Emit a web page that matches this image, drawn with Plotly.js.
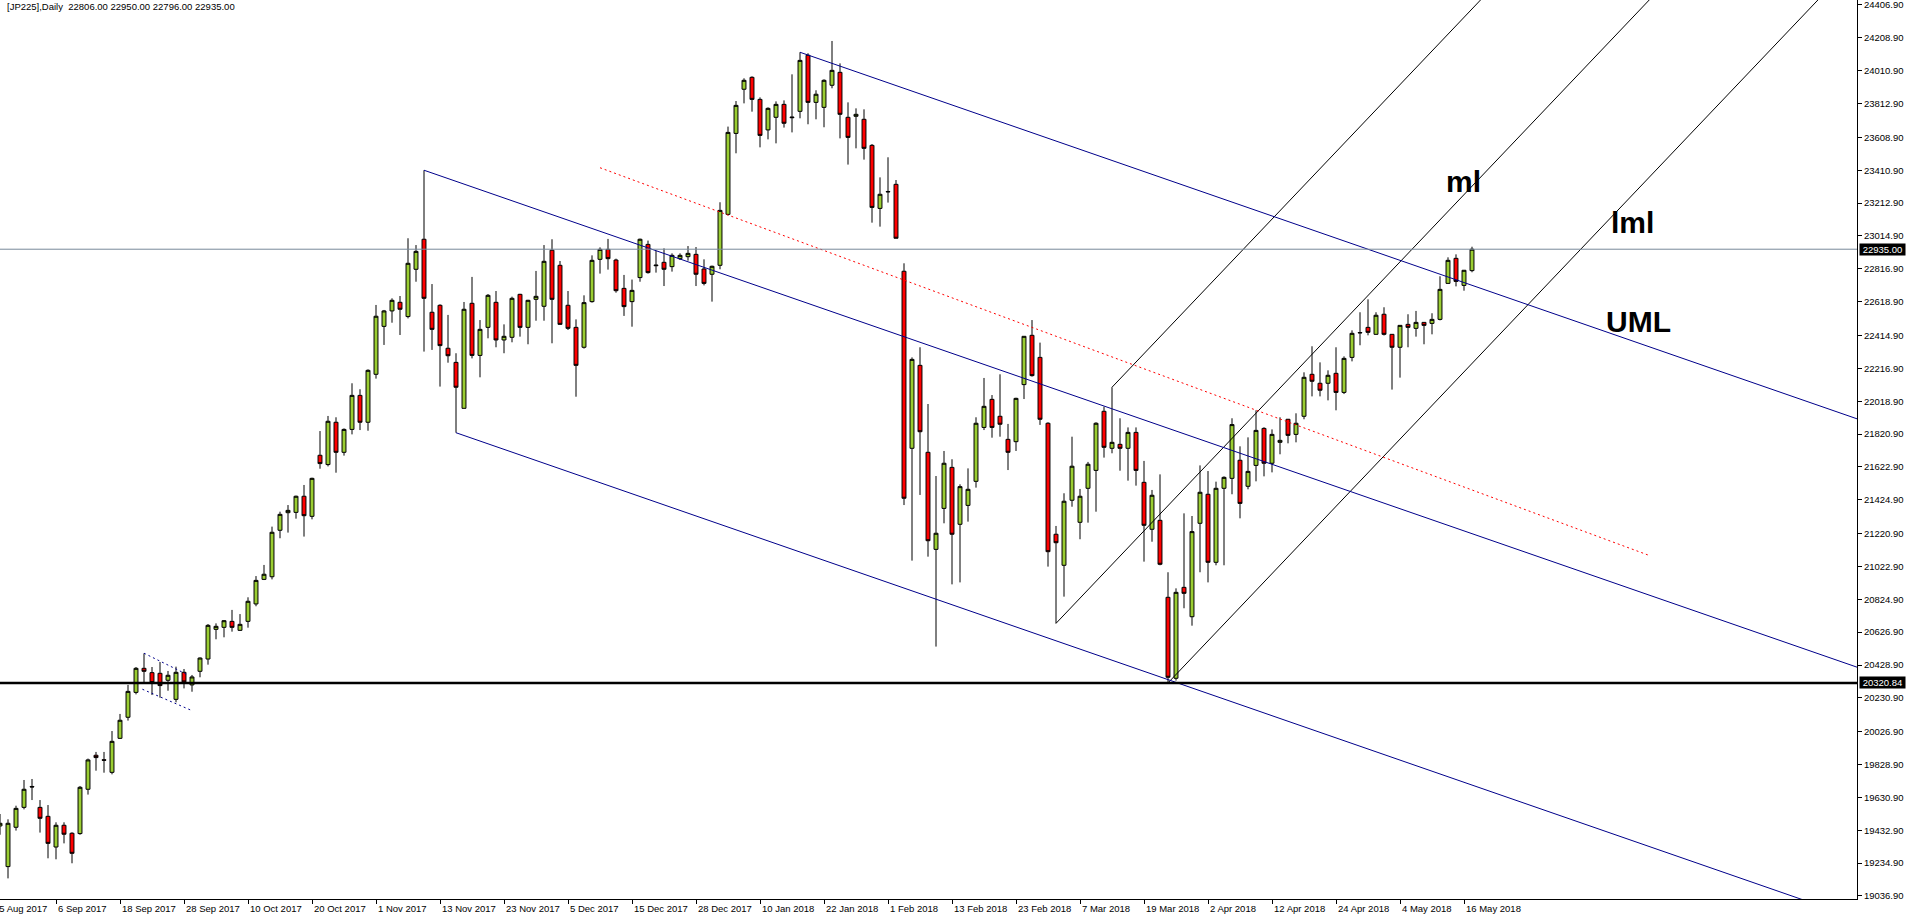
<!DOCTYPE html>
<html><head><meta charset="utf-8">
<script src="https://cdn.plot.ly/plotly-3.0.1.min.js"></script>
<style>html,body{margin:0;padding:0;background:#fff;overflow:hidden}#chart{width:1907px;height:919px}</style>
</head><body><div id="chart"></div>
<script>
// ---- Daily OHLC, JP225, bars from 28 Aug 2017 (bar 1) to 17 May 2018 (bar 185)
const openP = [19459,19214,19451,19571,19697,19571,19517,19332,19463,19415,19413,19680,19885,19858,19782,19987,20114,20264,20409,20383,
20379,20337,20222,20385,20309,20391,20465,20644,20656,20692,20638,20692,20797,20945,20961,21241,21347,21349,21446,21325,
21693,21637,21892,21711,21849,22054,21892,22181,22470,22563,22615,22529,22814,22995,22555,22597,22338,22253,21976,22609,
22295,22464,22615,22388,22404,22663,22464,22633,22591,22929,22838,22597,22464,22344,22619,22874,22934,22870,22699,22619,
22764,22964,22840,22856,22830,22878,22890,22904,22816,22784,22838,23145,23633,23899,23971,23838,23654,23730,23808,23732,
23766,24104,23820,23790,23923,24001,23730,23736,23718,23561,23181,23283,23326,22802,21735,22235,21711,21126,21373,21620,
21277,21391,21536,21861,22030,21928,21789,21775,22119,22416,22283,21886,21217,21030,21422,21289,21494,21602,21958,21735,
21759,21735,21831,21530,21247,21301,20837,20349,20897,20720,21283,21458,21048,21494,21554,21663,21506,21632,21855,21645,
21771,21910,21819,21928,22181,22127,22127,22187,22072,22283,22433,22464,22422,22543,22422,22344,22482,22458,22494,22488,
22512,22729,22880,22717,22806];
const highP = [19531,19499,19581,19736,19742,19615,19585,19481,19481,19421,19700,19865,19905,19905,20031,20134,20309,20417,20499,20417,
20447,20393,20419,20405,20369,20475,20676,20680,20700,20761,20736,20837,20965,21032,21263,21353,21393,21450,21514,21558,
21839,21930,21922,21855,22127,22091,22211,22599,22569,22639,22653,23001,22960,23411,22725,22603,22539,22308,22617,22768,
22508,22665,22683,22482,22649,22666,22630,22804,22960,22995,22864,22683,22512,22657,22898,22946,22997,22878,22780,22752,
22999,22987,22926,22940,22910,22910,22954,22948,22874,22836,23218,23674,23828,23965,23977,23850,23790,23826,23832,23989,
24122,24116,23893,23959,24190,24055,23820,23784,23778,23569,23368,23489,23352,22850,22283,22344,22002,21568,21719,21669,
21518,21614,21922,22159,22056,22181,21882,22040,22412,22508,22372,21892,21267,21464,21805,21490,21653,21892,21986,22103,
21916,21861,21861,21659,21484,21578,20988,20891,21343,21327,21632,21598,21534,21566,21916,21747,21801,21964,21862,21849,
21922,21912,21946,22193,22350,22253,22205,22344,22289,22446,22555,22633,22555,22585,22424,22478,22543,22563,22496,22549,
22772,22886,22904,22810,22950];
const lowP = [19406,19143,19431,19559,19615,19419,19264,19258,19354,19234,19406,19648,19792,19780,19770,19983,20094,20252,20319,20248,
20232,20274,20204,20288,20268,20355,20431,20584,20596,20630,20634,20654,20783,20941,20945,21193,21227,21311,21203,21307,
21612,21626,21588,21691,21819,21845,21841,22155,22358,22492,22418,22518,22739,22318,22328,22107,22251,21829,21976,22277,
22163,22398,22344,22308,22374,22408,22362,22504,22504,22368,22480,22448,22046,22336,22613,22788,22812,22673,22533,22468,
22739,22788,22794,22713,22800,22870,22866,22713,22717,22619,22814,23139,23513,23814,23764,23549,23597,23573,23668,23639,
23724,23688,23718,23670,23905,23603,23445,23543,23475,23095,23071,23216,23001,21393,21058,21454,21082,20540,21283,20915,
20927,21293,21498,21845,21799,21805,21604,21719,22032,22167,21876,21022,20680,20841,21383,21187,21287,21353,21679,21705,
21600,21540,21510,21052,21172,21030,20321,20335,20771,20666,20988,20927,21030,21030,21458,21313,21488,21536,21566,21590,
21699,21765,21771,21910,22048,22048,22024,21964,22062,22259,22356,22416,22420,22415,22089,22161,22344,22408,22362,22422,
22506,22727,22711,22685,22796];
const closeP = [19475,19475,19565,19680,19694,19505,19354,19463,19409,19294,19692,19857,19871,19855,19969,20096,20270,20409,20391,20323,
20305,20367,20385,20327,20357,20471,20668,20662,20696,20656,20674,20813,20939,20976,21229,21337,21361,21446,21329,21554,
21643,21898,21711,21849,22054,21892,22205,22531,22563,22627,22573,22850,22922,22639,22452,22354,22293,22103,22573,22295,
22452,22657,22388,22410,22639,22464,22627,22651,22862,22633,22482,22458,22235,22613,22868,22934,22878,22685,22589,22687,
22995,22794,22836,22814,22898,22898,22910,22784,22729,22832,23169,23639,23802,23953,23838,23621,23784,23808,23694,23728,
24073,23820,23869,23953,24013,23748,23609,23748,23543,23187,23266,23281,23001,21434,22271,21835,21178,21223,21645,21217,
21504,21488,21886,21988,21861,21880,21711,22036,22410,22173,21910,21112,21166,21416,21627,21446,21639,21886,21741,21771,
21735,21831,21602,21271,21452,21036,20355,20867,20861,21233,21470,21048,21494,21560,21878,21403,21596,21843,21645,21819,
21783,21813,21886,22163,22139,22085,22175,22072,22277,22428,22431,22434,22537,22422,22344,22476,22464,22494,22476,22512,
22693,22868,22741,22808,22935];
const firstBar = 1;

// ---- axes
const tickBars = [0,8,16,24,32,40,48,56,64,72,80,88,96,104,112,120,128,136,144,152,160,168,176,184];
const tickLabels = ['25 Aug 2017','6 Sep 2017','18 Sep 2017','28 Sep 2017','10 Oct 2017','20 Oct 2017','1 Nov 2017','13 Nov 2017',
'23 Nov 2017','5 Dec 2017','15 Dec 2017','28 Dec 2017','10 Jan 2018','22 Jan 2018','1 Feb 2018','13 Feb 2018','23 Feb 2018',
'7 Mar 2018','19 Mar 2018','2 Apr 2018','12 Apr 2018','24 Apr 2018','4 May 2018','16 May 2018'];
const priceTicks = [24406.9,24208.9,24010.9,23812.9,23608.9,23410.9,23212.9,23014.9,22816.9,22618.9,22414.9,22216.9,22018.9,
21820.9,21622.9,21424.9,21220.9,21022.9,20824.9,20626.9,20428.9,20230.9,20026.9,19828.9,19630.9,19432.9,19234.9,19036.9];
const priceRange = [19018.7, 24437.0];
const barRange = [1, 233.125];

// ---- chart objects (anchor bar, price)
const symbolInfo = '[JP225],Daily\u00a0 22806.00 22950.00 22796.00 22935.00';
const lastPrice = 22935.00;
const supportLevel = 20320.84;
const blackForkA = [133, 20680], blackForkB = [140, 22103], blackForkC = [147, 20321];
const blueForkAnchors = [[54, 23411], [58, 21829], [101, 24122]];
const blueForkDir = [233, 20418];
const redMidLine = [76, 23426, 207, 21092];
const flagUpper = [19, 20500, 24.5, 20369];
const flagLower = [18.8, 20283, 25, 20154];
const forkLabels = [
  {text: 'ml', bar: 181.6, price: 23346},
  {text: 'lml', bar: 202.25, price: 23099},
  {text: 'UML', bar: 201.6, price: 22502}
];

const bars = openP.map((_, k) => firstBar + k);
const rayEnd = 240;
function ray(p, slope, color, dash) {
  return {type: 'scatter', mode: 'lines', x: [p[0], rayEnd], y: [p[1], p[1] + slope * (rayEnd - p[0])],
    line: {color: color, width: 1, dash: dash || 'solid'}, hoverinfo: 'skip', showlegend: false};
}
function seg(s, color, dash) {
  return {type: 'scatter', mode: 'lines', x: [s[0], s[2]], y: [s[1], s[3]],
    line: {color: color, width: 1, dash: dash || 'solid'}, hoverinfo: 'skip', showlegend: false};
}
const bkSlope = ((blackForkB[1] + blackForkC[1]) / 2 - blackForkA[1]) / ((blackForkB[0] + blackForkC[0]) / 2 - blackForkA[0]);
const blSlope = (blueForkDir[1] - blueForkAnchors[0][1]) / (blueForkDir[0] - blueForkAnchors[0][0]);
const blue = '#00008B';

const traces = [
  ray(blackForkA, bkSlope, '#000'), ray(blackForkB, bkSlope, '#000'), ray(blackForkC, bkSlope, '#000'),
  ...blueForkAnchors.map(a => ray(a, blSlope, blue)),
  seg(redMidLine, '#FF0000', '2px,3px'),
  seg(flagUpper, blue, '2px,3px'), seg(flagLower, blue, '2px,3px'),
  {type: 'candlestick', x: bars, open: openP, high: highP, low: lowP, close: closeP,
   increasing: {line: {color: '#000', width: 1}, fillcolor: '#9ACD32'},
   decreasing: {line: {color: '#000', width: 1}, fillcolor: '#FF0000'},
   whiskerwidth: 0, hoverinfo: 'skip', showlegend: false}
];

const tickFont = {family: '"Liberation Sans", Arial, sans-serif', size: 9.5, color: '#000'};
const whiteFont = Object.assign({}, tickFont, {color: '#fff'});
const span = barRange[1] - barRange[0];
const annotations = [
  {xref: 'paper', yref: 'paper', x: 0, y: 1, xanchor: 'left', yanchor: 'top', xshift: 6, yshift: 0, borderpad: 0,
   text: symbolInfo, showarrow: false, font: tickFont},
  ...tickBars.map((b, k) => {
    const inside = b >= barRange[0];
    return {xref: inside ? 'x' : 'paper', yref: 'paper', x: inside ? b : (b - barRange[0]) / span, y: 0,
      xanchor: 'left', yanchor: 'top', xshift: 1, yshift: -3, borderpad: 0,
      text: tickLabels[k], showarrow: false, font: tickFont};
  }),
  {xref: 'paper', yref: 'y', x: 1, y: lastPrice, xanchor: 'left', yanchor: 'middle', xshift: 2, borderpad: 0,
   text: '\u00a0' + lastPrice.toFixed(2) + '\u00a0', showarrow: false, bgcolor: '#000', font: whiteFont},
  {xref: 'paper', yref: 'y', x: 1, y: supportLevel, xanchor: 'left', yanchor: 'middle', xshift: 2, borderpad: 0,
   text: '\u00a0' + supportLevel.toFixed(2) + '\u00a0', showarrow: false, bgcolor: '#000', font: whiteFont},
  ...forkLabels.map(f => ({xref: 'x', yref: 'y', x: f.bar, y: f.price, xanchor: 'left', yanchor: 'middle', borderpad: 0,
    text: '<b>' + f.text + '</b>', showarrow: false, font: {family: '"Liberation Sans", Arial, sans-serif', size: 30, color: '#000'}}))
];

const layout = {
  width: 1907, height: 919, margin: {l: 0, r: 50, t: 0, b: 20, pad: 0},
  paper_bgcolor: '#fff', plot_bgcolor: '#fff', showlegend: false, dragmode: false,
  boxgap: 0.3, boxgroupgap: 0.3,
  xaxis: {type: 'linear', range: barRange, tickvals: tickBars, showticklabels: false, ticks: 'outside', ticklen: 4,
    tickcolor: '#000', showline: true, linecolor: '#000', linewidth: 1, showgrid: false, zeroline: false,
    rangeslider: {visible: false}, fixedrange: true},
  yaxis: {side: 'right', range: priceRange, tickvals: priceTicks, ticktext: priceTicks.map(v => v.toFixed(2)),
    ticks: 'outside', ticklen: 4, tickcolor: '#000', showline: true, linecolor: '#000', linewidth: 1,
    showgrid: false, zeroline: false, tickfont: tickFont, ticklabeloverflow: 'allow', fixedrange: true},
  shapes: [
    {type: 'line', xref: 'paper', yref: 'y', x0: 0, x1: 1, y0: lastPrice, y1: lastPrice, line: {color: '#778899', width: 1}},
    {type: 'line', xref: 'paper', yref: 'y', x0: 0, x1: 1, y0: supportLevel, y1: supportLevel, line: {color: '#000', width: 2.5}}
  ],
  annotations: annotations
};
Plotly.newPlot('chart', traces, layout, {staticPlot: true, displayModeBar: false});
</script></body></html>
